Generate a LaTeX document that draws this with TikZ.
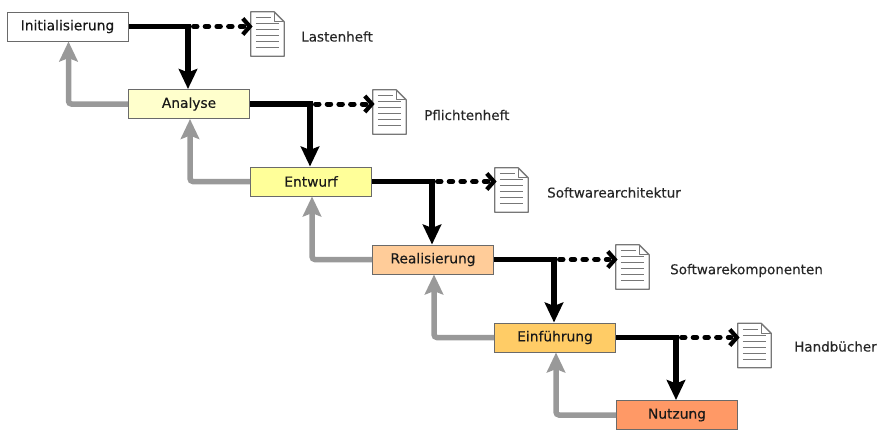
\documentclass[tikz,border=0pt]{standalone}
\usepackage{fontspec}
\setmainfont[FakeBold=0.25]{DejaVu Sans}
\usetikzlibrary{arrows.meta,calc}
\definecolor{edgegray}{HTML}{6A6A6A}
\definecolor{backgray}{HTML}{999999}
\definecolor{docgray}{HTML}{777777}
\tikzset{
  x=1pt,y=-1pt,
  phase/.style={draw=edgegray,line width=1pt,minimum width=121pt,minimum height=29pt,inner sep=0pt,font=\fontsize{13.8}{15}\selectfont,text=black!90},
  docbox/.style={minimum width=33pt,minimum height=44pt,inner sep=0pt},
  doclabel/.style={font=\fontsize{13.5}{15}\selectfont,text=black!85,inner sep=0pt},
  forward/.style={line width=5.5pt,black,-{Stealth[length=20pt,width=18.5pt,inset=3.5pt,sep=0pt]}},
  back/.style={line width=5.5pt,backgray,rounded corners=3pt,-{Stealth[length=20pt,width=18.5pt,inset=3.5pt,sep=0pt]}},
  output/.style={line width=5pt,black,line cap=round,dash pattern=on 3.5pt off 8.2pt,dash phase=6.2pt,shorten >=7pt},
  outhead/.style={line width=4.2pt,black,line cap=butt,line join=miter},
  docline/.style={line width=1.3pt,docgray},
}
\newcommand{\docicon}[1]{%
  \draw[docline,fill=white,line join=round]
    (#1.north west) -- ($(#1.north east)+(-10,0)$) -- ($(#1.north east)+(0,10)$) -- (#1.south east) -- (#1.south west) -- cycle;
  \draw[docline,line join=round] ($(#1.north east)+(-10,0)$) -- ($(#1.north east)+(-10,10)$) -- ($(#1.north east)+(0,10)$);
  \foreach \yy in {6,12,18,24,30,36}{
    \draw[docline] ($(#1.north west)+(5,\yy)$) -- ($(#1.north west)+(\ifnum\yy<10 20\else 28\fi,\yy)$);
  }%
}
\newcommand{\outarrow}[2]{%
  % #1 = junction coordinate, #2 = document node
  \draw[output] (#1) -- (#1 -| #2.west);
  \draw[outhead] ($(#1 -| #2.west)+(-8,-8)$) -- ($(#1 -| #2.west)+(-1,0)$) -- ($(#1 -| #2.west)+(-8,8)$);
}
\begin{document}
\begin{tikzpicture}
\useasboundingbox (0,0) rectangle (890,439);
% phases
\node[phase,fill=white] (init) at (67.5,26.5) {Initialisierung};
\node[phase,fill={rgb,255:red,255;green,255;blue,204}] (ana) at (189,104) {Analyse};
\node[phase,fill={rgb,255:red,255;green,255;blue,153}] (ent) at (311,181.5) {Entwurf};
\node[phase,fill={rgb,255:red,255;green,204;blue,153}] (rea) at (433,259.5) {Realisierung};
\node[phase,fill={rgb,255:red,255;green,204;blue,102}] (ein) at (555,337.5) {Einführung};
\node[phase,fill={rgb,255:red,255;green,153;blue,102}] (nut) at (677,415) {Nutzung};
% documents
\node[docbox] (d1) at (267.5,34) {};
\node[docbox] (d2) at (389.5,112) {};
\node[docbox] (d3) at (511.5,190) {};
\node[docbox] (d4) at (632.5,267) {};
\node[docbox] (d5) at (754.5,345.5) {};
\docicon{d1}\docicon{d2}\docicon{d3}\docicon{d4}\docicon{d5}
% labels
\node[doclabel,anchor=west] (l1) at (301,36.5) {Lastenheft};
\node[doclabel,anchor=west] (l2) at (424,115) {Pflichtenheft};
\node[doclabel,anchor=west] (l3) at (547,192.5) {Softwarearchitektur};
\node[doclabel,anchor=west] (l4) at (670,270.5) {Softwarekomponenten};
\node[doclabel,anchor=west] (l5) at (794,346.5) {Handbücher};
% junctions
\coordinate (j1) at ([xshift=-1pt]ana.north |- init.east);
\coordinate (j2) at ([xshift=-1pt]ent.north |- ana.east);
\coordinate (j3) at ([xshift=-1pt]rea.north |- ent.east);
\coordinate (j4) at ([xshift=-1pt]ein.north |- rea.east);
\coordinate (j5) at ([xshift=-1pt]nut.north |- ein.east);
% output dotted arrows
\outarrow{j1}{d1}\outarrow{j2}{d2}\outarrow{j3}{d3}\outarrow{j4}{d4}\outarrow{j5}{d5}
% back arrows
\draw[back] (ana.west) -| ([xshift=1pt]init.south);
\draw[back] (ent.west) -| ([xshift=1pt]ana.south);
\draw[back] (rea.west) -| ([xshift=1pt]ent.south);
\draw[back] (ein.west) -| ([xshift=1pt]rea.south);
\draw[back] (nut.west) -| ([xshift=1pt]ein.south);
% forward arrows
\draw[forward] (init.east) -| ([xshift=-1pt]ana.north);
\draw[forward] (ana.east) -| ([xshift=-1pt]ent.north);
\draw[forward] (ent.east) -| ([xshift=-1pt]rea.north);
\draw[forward] (rea.east) -| ([xshift=-1pt]ein.north);
\draw[forward] (ein.east) -| ([xshift=-1pt]nut.north);
\end{tikzpicture}
\end{document}
